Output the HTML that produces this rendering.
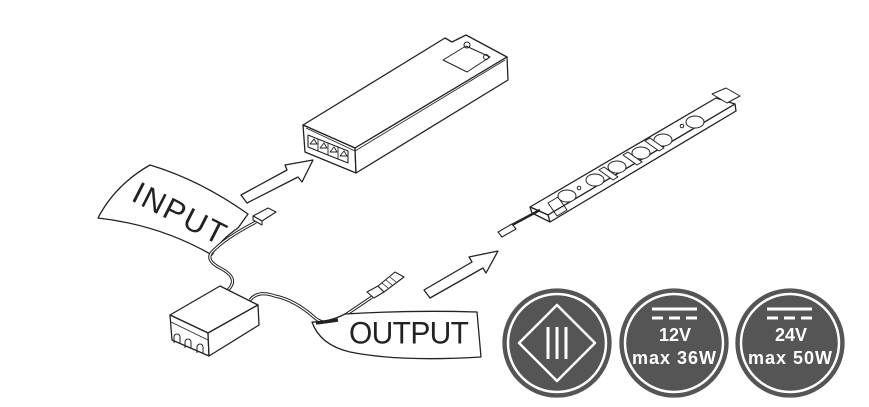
<!DOCTYPE html>
<html><head><meta charset="utf-8"><style>
html,body{margin:0;padding:0;background:#fff;}
svg{display:block}
</style></head><body>
<svg width="869" height="407" viewBox="0 0 869 407" xmlns="http://www.w3.org/2000/svg" fill="none" stroke="#222" stroke-width="1.3" stroke-linejoin="round">
<!-- Driver box -->
<polygon points="303,125 445,38 452,42 466,35 507,57 355,148" fill="#fff"/>
<polygon points="303,125 355,148 356,173 305,152" fill="#fff"/>
<polygon points="355,148 507,57 508,80 356,173" fill="#fff"/>
<line x1="306" y1="128" x2="355" y2="151" stroke-width="0.8"/>
<line x1="355" y1="151" x2="505" y2="60" stroke-width="0.8"/>
<polygon points="443,60 466,46 490,57 467,72" stroke-width="1"/>
<circle cx="467" cy="45" r="3" stroke-width="1"/>
<circle cx="486" cy="57" r="2.5" stroke-width="1"/>
<polygon points="308,135 348,151 348,163 308,147" stroke-width="1.1"/>
<g stroke-width="0.9"><line x1="318" y1="139" x2="318" y2="151"/><line x1="328" y1="143" x2="328" y2="155"/><line x1="338" y1="147" x2="338" y2="159"/>
<path d="M310,144 l4,-5 l3,5z M320,148 l4,-5 l3,5z M330,152 l4,-5 l3,5z M340,156 l4,-5 l3,5z"/></g>
<!-- Arrow 1 -->
<polygon points="241,195 287,170 285,165 313,160 302,182 298,177 247,203" fill="#fff"/>
<!-- Arrow 2 -->
<polygon points="424,290 472,262 469,257 498,251 486,273 483,268 430,298" fill="#fff"/>
<!-- INPUT banner -->
<path d="M150,165 Q200,180 248,214 L238,228 Q220,240 212,255 Q160,225 98,218 Q115,185 150,165 Z" fill="#fff"/>
<text x="0" y="0" transform="translate(130,200) rotate(27)" font-family="Liberation Sans, sans-serif" font-size="31" fill="#222" stroke="none" textLength="100">INPUT</text>
<!-- input cable & connector -->
<path d="M256,222 Q225,238 212,252 Q205,260 220,268 Q240,278 228,290" stroke-width="3.2"/>
<path d="M256,222 Q225,238 212,252 Q205,260 220,268 Q240,278 228,290" stroke="#fff" stroke-width="1.2"/>
<polygon points="253,216 268,208 276,212 262,221" fill="#fff" stroke-width="1.1"/>
<polygon points="253,216 262,221 262,225 253,220" fill="#fff" stroke-width="1.1"/>
<!-- output cable -->
<path d="M250,300 Q258,290 275,296 Q295,300 315,318 Q325,326 338,320 L372,297" stroke-width="3.2"/>
<path d="M250,300 Q258,290 275,296 Q295,300 315,318 Q325,326 338,320 L372,297" stroke="#fff" stroke-width="1.2"/>
<polygon points="367,292 378,286 384,292 374,298" fill="#fff" stroke-width="1.1"/>
<polygon points="378,286 395,272 404,277 384,292" fill="#fff" stroke-width="1.1"/>
<g stroke-width="0.8"><line x1="382" y1="283" x2="388" y2="288"/><line x1="386" y1="280" x2="392" y2="285"/><line x1="390" y1="277" x2="396" y2="282"/></g>
<!-- small box -->
<polygon points="170,315 220,286 258,305 208,333" fill="#fff"/>
<polygon points="170,315 208,333 209,356 172,340" fill="#fff"/>
<polygon points="208,333 258,305 259,325 209,356" fill="#fff"/>
<line x1="171" y1="322" x2="208" y2="340" stroke-width="0.8"/>
<path d="M174,343 v-6 a3,3 0 0 1 6,0 v6 M185,348 v-6 a3,3 0 0 1 6,0 v6 M197,353 v-6 a3,3 0 0 1 6,0 v6" stroke-width="1"/>
<!-- OUTPUT banner -->
<path d="M312,322 Q330,322 345,314 Q410,310 477,312 L481,357 Q400,362 350,352 Q320,345 312,322 Z" fill="#fff"/>
<path d="M316,323 Q325,322 338,320" stroke-width="3.2"/>
<text x="349" y="343" font-family="Liberation Sans, sans-serif" font-size="30" fill="#222" stroke="none" textLength="120" transform="scale(1,1.05) translate(0,-16)">OUTPUT</text>
<!-- LED strip -->
<polygon points="530,207 716,98 735,104 548,215" fill="#fff"/>
<polygon points="548,215 735,104 736,111 550,222" fill="#fff"/>
<polygon points="530,207 548,215 550,222 532,213" fill="#fff"/>
<polygon points="712,94 726,88 740,96 727,103" fill="#fff" stroke-width="1"/>
<polygon points="548,203 558,197 567,210 557,216" stroke-width="1"/>
<g stroke-width="1" fill="#fff">
<ellipse cx="567" cy="196" rx="9" ry="6"/><ellipse cx="595" cy="180" rx="9" ry="6"/><ellipse cx="617" cy="167" rx="9" ry="6"/><ellipse cx="641" cy="153" rx="9" ry="6"/><ellipse cx="663" cy="140" rx="9" ry="6"/><ellipse cx="695" cy="122" rx="9" ry="6"/>
<circle cx="579" cy="188" r="1.8"/><circle cx="682" cy="126" r="1.8"/>
<polygon points="599,170 604,167 618,177 613,180"/><polygon points="623,155 628,152 642,162 637,165"/><polygon points="645,141 650,138 664,148 659,151"/>
</g>
<path d="M540,210 L510,226" stroke-width="2.5"/>
<polygon points="498,232 512,224 516,229 502,237" fill="#fff" stroke-width="1.1"/>
<!-- Badges -->
<g>
<circle cx="557" cy="343" r="54" fill="#555" stroke="#555"/>
<circle cx="557" cy="343" r="49" fill="none" stroke="#fff" stroke-width="2.5"/>
<polygon points="557,305 595,343 557,381 519,343" fill="none" stroke="#fff" stroke-width="2.5"/>
<g stroke="#fff" stroke-width="3"><line x1="548" y1="327" x2="548" y2="359"/><line x1="557" y1="327" x2="557" y2="359"/><line x1="566" y1="327" x2="566" y2="359"/></g>
<circle cx="674" cy="343" r="54" fill="#555" stroke="#555"/>
<circle cx="674" cy="343" r="49" fill="none" stroke="#fff" stroke-width="2.5"/>
<g stroke="#fff" stroke-width="3"><line x1="652" y1="309" x2="697" y2="309"/><line x1="652" y1="318" x2="663" y2="318"/><line x1="669" y1="318" x2="680" y2="318"/><line x1="686" y1="318" x2="697" y2="318"/></g>
<text x="675" y="341" text-anchor="middle" font-family="Liberation Sans, sans-serif" font-weight="bold" font-size="18" fill="#fff" stroke="none">12V</text>
<text x="674" y="364" text-anchor="middle" font-family="Liberation Sans, sans-serif" font-weight="bold" font-size="18" fill="#fff" stroke="none" textLength="84">max 36W</text>
<circle cx="790" cy="343" r="54" fill="#555" stroke="#555"/>
<circle cx="790" cy="343" r="49" fill="none" stroke="#fff" stroke-width="2.5"/>
<g stroke="#fff" stroke-width="3"><line x1="767" y1="309" x2="812" y2="309"/><line x1="767" y1="318" x2="778" y2="318"/><line x1="784" y1="318" x2="795" y2="318"/><line x1="801" y1="318" x2="812" y2="318"/></g>
<text x="791" y="341" text-anchor="middle" font-family="Liberation Sans, sans-serif" font-weight="bold" font-size="18" fill="#fff" stroke="none">24V</text>
<text x="790" y="364" text-anchor="middle" font-family="Liberation Sans, sans-serif" font-weight="bold" font-size="18" fill="#fff" stroke="none" textLength="84">max 50W</text>
</g>
</svg>
</body></html>
